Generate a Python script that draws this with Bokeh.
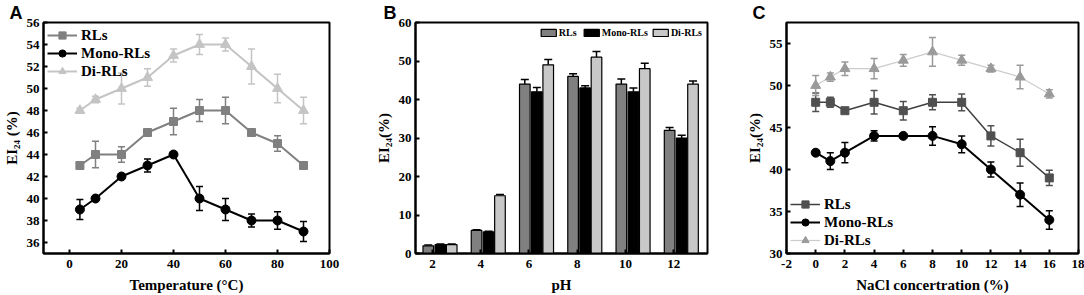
from bokeh.plotting import figure
from bokeh.models import (ColumnDataSource, Whisker, TeeHead, FixedTicker, Legend,
                          LegendItem, Range1d, PrintfTickFormatter)
from bokeh.layouts import row
from bokeh.embed import file_html
from bokeh.resources import INLINE

# ---------------- data ----------------
temp = [4, 10, 20, 30, 40, 50, 60, 70, 80, 90]
a_rls = [43, 44, 44, 46, 47, 48, 48, 46, 45, 43]
a_rls_err = [0.2, 1.2, 0.7, 0.2, 1.2, 1.0, 1.2, 0.2, 0.7, 0.2]
a_mono = [39, 40, 42, 43, 44, 40, 39, 38, 38, 37]
a_mono_err = [0.9, 0.2, 0.2, 0.6, 0.2, 1.1, 1.0, 0.6, 0.8, 0.9]
a_di = [48, 49, 50, 51, 53, 54, 54, 52, 50, 48]
a_di_err = [0.2, 0.3, 1.4, 0.8, 0.6, 0.9, 0.6, 1.6, 1.3, 1.2]

ph = [2, 4, 6, 8, 10, 12]
b_rls = [2.0, 6.0, 44, 46, 44, 32]
b_rls_err = [0.2, 0.2, 1.2, 0.7, 1.3, 0.7]
b_mono = [2.3, 5.6, 42, 43, 42, 30]
b_mono_err = [0.2, 0.2, 1.1, 0.6, 1.0, 0.7]
b_di = [2.3, 15, 49, 51, 48, 44]
b_di_err = [0.2, 0.3, 1.4, 1.5, 1.4, 0.8]

nacl = [0, 1, 2, 4, 6, 8, 10, 12, 14, 16]
c_rls = [48, 48, 47, 48, 47, 48, 48, 44, 42, 39]
c_rls_err = [1.1, 0.6, 0.2, 1.4, 1.1, 0.9, 1.0, 1.2, 1.6, 0.9]
c_mono = [42, 41, 42, 44, 44, 44, 43, 40, 37, 34]
c_mono_err = [0.2, 1.0, 1.2, 0.6, 0.2, 1.1, 1.0, 0.9, 1.4, 1.1]
c_di = [50, 51, 52, 52, 53, 54, 53, 52, 51, 49]
c_di_err = [1.2, 0.5, 0.8, 1.2, 0.7, 1.7, 0.6, 0.4, 1.4, 0.5]

a_xticks = [0, 20, 40, 60, 80, 100]
a_yticks = [36, 38, 40, 42, 44, 46, 48, 50, 52, 54, 56]
b_xticks = [2, 4, 6, 8, 10, 12]
b_yticks = [0, 10, 20, 30, 40, 50, 60]
c_xticks = [-2, 0, 2, 4, 6, 8, 10, 12, 14, 16, 18]
c_yticks = [30, 35, 40, 45, 50, 55]

SERIF = "Liberation Serif"


def style(p, xticks, yticks, xlabel, ylabel):
    p.outline_line_color = "black"
    p.outline_line_width = 2
    p.outline_line_alpha = 1
    p.xgrid.visible = False
    p.ygrid.visible = False
    p.background_fill_color = "white"
    p.border_fill_color = "white"
    p.xaxis.ticker = FixedTicker(ticks=xticks)
    p.yaxis.ticker = FixedTicker(ticks=yticks)
    p.xaxis.formatter = PrintfTickFormatter(format="%d")
    p.yaxis.formatter = PrintfTickFormatter(format="%d")
    for ax in (p.xaxis[0], p.yaxis[0]):
        ax.axis_line_width = 2
        ax.axis_line_color = "black"
        ax.major_tick_in = 4
        ax.major_tick_out = 0
        ax.major_tick_line_width = 2
        ax.minor_tick_line_color = None
        ax.major_label_text_font = SERIF
        ax.major_label_text_font_style = "bold"
        ax.major_label_text_font_size = "13px"
        ax.major_label_text_color = "black"
        ax.axis_label_text_font = SERIF
        ax.axis_label_text_font_style = "bold"
        ax.axis_label_text_font_size = "15px"
        ax.axis_label_text_color = "black"
    p.xaxis.axis_label = xlabel
    p.yaxis.axis_label = ylabel
    p.xaxis.major_label_standoff = 6
    p.xaxis.axis_label_standoff = 6
    p.yaxis.major_label_standoff = 4
    p.yaxis.axis_label_standoff = 4


def letter(p, text, offset):
    p.title.text = text
    p.title.align = "left"
    p.title.offset = offset
    p.title.standoff = 0
    p.title.text_font = "Liberation Sans"
    p.title.text_font_style = "bold"
    p.title.text_font_size = "18px"
    p.title.text_color = "black"


def line_series(p, x, y, err, color, line_color, lw, marker, size, head=7):
    src = ColumnDataSource(dict(x=x, y=y,
                                lo=[a - b for a, b in zip(y, err)],
                                hi=[a + b for a, b in zip(y, err)]))
    p.add_layout(Whisker(source=src, base="x", upper="hi", lower="lo",
                         line_color=color, line_width=1.5,
                         upper_head=TeeHead(size=head, line_color=color, line_width=1.5),
                         lower_head=TeeHead(size=head, line_color=color, line_width=1.5)))
    r1 = p.line("x", "y", source=src, line_color=line_color, line_width=lw)
    r2 = p.scatter("x", "y", source=src, marker=marker, size=size,
                   fill_color=color, line_color=color)
    return [r1, r2]


def line_legend(p, items, location):
    leg = Legend(items=items, location=location)
    leg.background_fill_alpha = 0
    leg.border_line_color = None
    leg.label_text_font = SERIF
    leg.label_text_font_style = "bold"
    leg.label_text_font_size = "15px"
    leg.label_text_color = "black"
    leg.glyph_width = 30
    leg.glyph_height = 18
    leg.label_height = 18
    leg.spacing = 0
    leg.padding = 2
    leg.margin = 4
    leg.label_standoff = 4
    p.add_layout(leg)


H = 295
TOP = 20
BOT = 41

# ---------------- panel A ----------------
pA = figure(width=340, height=H, output_backend="svg", toolbar_location=None,
            x_range=Range1d(-10, 100), y_range=Range1d(35, 56),
            min_border_left=38, min_border_right=11, min_border_top=TOP, min_border_bottom=BOT)
style(pA, a_xticks, a_yticks, "Temperature (\u00b0C)", "EI\u2082\u2084 (%)")
rA1 = line_series(pA, temp, a_rls, a_rls_err, "#808080", "#808080", 2, "square", 8)
rA2 = line_series(pA, temp, a_mono, a_mono_err, "black", "black", 2, "circle", 9)
rA3 = line_series(pA, temp, a_di, a_di_err, "#c4c4c4", "#c4c4c4", 2, "triangle", 10)
line_legend(pA, [LegendItem(label="RLs", renderers=rA1),
                 LegendItem(label="Mono-RLs", renderers=rA2),
                 LegendItem(label="Di-RLs", renderers=rA3)], "top_left")
letter(pA, "A", -34)

# ---------------- panel B ----------------
pB = figure(width=380, height=H, output_backend="svg", toolbar_location=None,
            x_range=Range1d(1.3, 13.4), y_range=Range1d(0, 60),
            min_border_left=75, min_border_right=13, min_border_top=TOP, min_border_bottom=BOT)
style(pB, b_xticks, b_yticks, "pH", "EI\u2082\u2084(%)")
offsets = [-0.17, 0.33, 0.8]
bw = 0.44
bitems = []
for vals, errs, col, name, off in [(b_rls, b_rls_err, "#808080", "RLs", offsets[0]),
                                   (b_mono, b_mono_err, "black", "Mono-RLs", offsets[1]),
                                   (b_di, b_di_err, "#c8c8c8", "Di-RLs", offsets[2])]:
    xs = [v + off for v in ph]
    src = ColumnDataSource(dict(x=xs, top=vals, hi=[a + b for a, b in zip(vals, errs)]))
    pB.add_layout(Whisker(source=src, base="x", upper="hi", lower="top",
                          line_color="black", line_width=1.5,
                          upper_head=TeeHead(size=8, line_color="black", line_width=1.5),
                          lower_head=None, level="underlay"))
    r = pB.vbar(x="x", top="top", bottom=0, width=bw, source=src,
                fill_color=col, line_color="black", line_width=1.2)
    bitems.append(LegendItem(label=name, renderers=[r]))
legB = Legend(items=bitems, location="top_right", orientation="horizontal")
legB.background_fill_alpha = 0
legB.border_line_color = None
legB.label_text_font = SERIF
legB.label_text_font_style = "bold"
legB.label_text_font_size = "10px"
legB.label_text_color = "black"
legB.glyph_width = 19
legB.glyph_height = 9
legB.label_height = 9
legB.label_standoff = 1
legB.spacing = 3
legB.padding = 2
legB.margin = 5
pB.add_layout(legB)
letter(pB, "B", -32)

# ---------------- panel C ----------------
pC = figure(width=364, height=H, output_backend="svg", toolbar_location=None,
            x_range=Range1d(-2, 18), y_range=Range1d(30, 57.5),
            min_border_left=66, min_border_right=6, min_border_top=TOP, min_border_bottom=BOT)
style(pC, c_xticks, c_yticks, "NaCl concertration (%)", "EI\u2082\u2084(%)")
rC1 = line_series(pC, nacl, c_rls, c_rls_err, "#505050", "#404040", 1.5, "square", 8)
rC2 = line_series(pC, nacl, c_mono, c_mono_err, "black", "black", 2, "circle", 9)
rC3 = line_series(pC, nacl, c_di, c_di_err, "#9a9a9a", "#cccccc", 1.2, "triangle", 10)
line_legend(pC, [LegendItem(label="RLs", renderers=rC1),
                 LegendItem(label="Mono-RLs", renderers=rC2),
                 LegendItem(label="Di-RLs", renderers=rC3)], "bottom_left")
letter(pC, "C", -34)

layout = row(pA, pB, pC)
open("out.html", "w").write(file_html(layout, INLINE))
